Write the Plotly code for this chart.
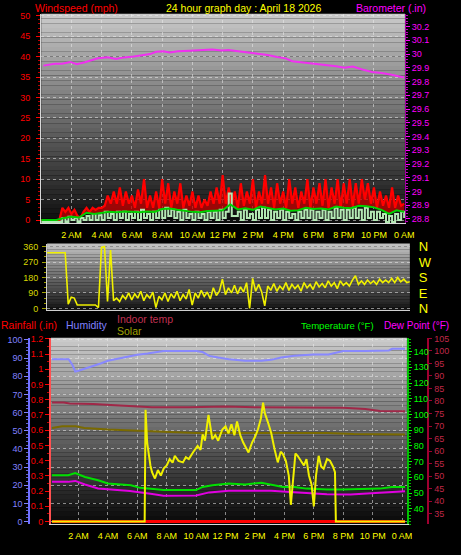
import plotly.graph_objects as go

W, H = 461, 555

# ---------------- data ----------------
hour_labels = ["2 AM", "4 AM", "6 AM", "8 AM", "10 AM", "12 PM", "2 PM", "4 PM",
               "6 PM", "8 PM", "10 PM", "0 AM"]
hour_ticks = [2, 4, 6, 8, 10, 12, 14, 16, 18, 20, 22, 24]

hours_fine = [round(i * 0.2, 1) for i in range(121)]
hours_half = [i * 0.5 for i in range(49)]

wind_gust = [0, 0, 0, 0, 0, 0, 0, 3, 2, 3,
             1.5, 2.5, 1, 0.5, 2, 3, 2, 3, 2.5, 3,
             3, 3.5, 6, 4, 7, 4, 8, 3.5, 7, 4,
             6, 3, 7.5, 4, 10, 3, 6, 3, 7, 3,
             10, 4, 9, 3, 7, 4, 9, 3, 6, 3.5,
             7, 3, 6, 3, 5, 3.5, 7, 4, 8, 4,
             11, 4, 8, 4, 7, 3, 9, 3.5, 7, 4,
             10, 3, 7, 4, 11, 4, 8, 3, 9, 4,
             7, 3, 10, 4, 8, 3, 7, 4, 10, 3,
             8, 4, 9, 3.5, 10, 3, 8, 4, 10, 3,
             9, 4, 10, 3.5, 9, 4, 10, 5, 9, 4,
             8, 3, 7, 3.5, 6, 3, 8, 3, 6, 3.5,
             4]

wind_speed = [-0.5, -0.5, -0.5, -0.5, -0.5, -0.5, -0.5, 0.5, -0.5, 0.8,
              0, 0.5, -0.5, 0.5, 0, 1, 0, 1.5, 0, 1.2,
              0, 2, 0.5, 1.5, 0, 2, 0.5, 2, 0, 1.5,
              0.5, 2, 0, 2.5, 0.5, 1.5, 0, 2, 0.5, 2.5,
              0.5, 3, 1, 2.5, 0.5, 2, 0, 2.5, 0.5, 1.5,
              0, 2, 0.5, 1.5, 0, 2, 0.5, 2, 0, 2.5,
              0.5, 2, 6.5, 1, 1, 2, 0, 2.5, 0.5, 1.5,
              0, 2.5, 0.5, 3, 0.5, 2.5, 0, 2, 0.5, 2.5,
              0, 2, 0.5, 1.5, 0, 2, 0.5, 2.5, 0.5, 2.5,
              0, 2, 0.5, 2.5, 0, 2, 0.5, 3, 0.5, 2.5,
              0, 2.5, 0.5, 3, 0.5, 2.5, 0, 3, 0.5, 2,
              0, 2, 0.5, 1.5, -0.5, 1, -0.5, 1.5, 0, 2,
              0.5]

wind_avg = [0, 0, 0, 0.5, 0.8, 0.6, 1.8, 1.5, 1.7, 2.0,
            1.9, 2.1, 2.0, 1.9, 2.1, 2.0, 2.7, 2.8, 2.5, 2.2,
            2.0, 1.9, 2.2, 2.3, 2.4, 3.8, 2.6, 2.9, 2.5, 3.3,
            2.9, 2.6, 2.8, 2.3, 2.4, 3.0, 2.7, 2.8, 2.6, 3.3,
            3.0, 2.9, 3.5, 3.4, 3.1, 2.5, 1.5, 2.4, 2.0]

baro_hours = [0.15, 0.9, 1.38, 1.92, 2.36, 2.89, 3.75, 4.40, 4.94, 5.48,
              6.13, 6.77, 7.2, 7.6, 8.07, 8.5, 9.04, 9.8, 10.66, 11.3,
              11.95, 12.38, 13.03, 13.68, 14.3, 14.97, 15.6, 16.16, 16.6, 17.34,
              18.0, 18.86, 19.5, 20.05, 20.6, 21.23, 21.88, 22.52, 23.17, 23.99]
baro_inhg = [29.916, 29.929, 29.93, 29.943, 29.926, 29.94, 29.969, 29.976, 29.964, 29.976,
             29.983, 29.993, 30.0, 30.017, 30.02, 30.012, 30.02, 30.024, 30.029, 30.033,
             30.026, 30.03, 30.02, 30.012, 30.0, 29.993, 29.979, 29.969, 29.948, 29.94,
             29.93, 29.921, 29.912, 29.9, 29.91, 29.888, 29.869, 29.862, 29.85, 29.829]
baro_ticks = [28.8, 28.9, 29.0, 29.1, 29.2, 29.3, 29.4, 29.5, 29.6, 29.7, 29.8,
              29.9, 30.0, 30.1, 30.2]

wind_dir = [324, 324, 324, 324, 324, 324, 324, 25, 65, 60,
            20, 20, 20, 20, 20, 18, 20, 5, 355, 360,
            40, 340, 45, 60, 40, 75, 55, 90, 50, 85,
            60, 100, 45, 80, 60, 95, 5, 70, 50, 90,
            40, 85, 60, 100, 45, 80, 55, 110, 20, 90,
            60, 105, 70, 95, 55, 120, 75, 100, 170, 80,
            120, 90, 135, 85, 125, 95, 150, 0, 175, 100,
            140, 95, 15, 130, 105, 145, 100, 130, 110, 150,
            105, 140, 115, 135, 100, 150, 120, 140, 110, 155,
            125, 145, 120, 160, 130, 150, 115, 160, 135, 150,
            130, 165, 190, 140, 160, 140, 165, 145, 160, 140,
            170, 150, 165, 150, 175, 150, 180, 155, 170, 150,
            155]
dir_ticks = [0, 90, 180, 270, 360]
dir_letters = ["N", "E", "S", "W", "N"]

hum_hours = [0.2, 1.33, 1.6, 1.78, 2.0, 2.4, 2.89, 3.5, 4.0, 4.89,
             5.5, 6.0, 6.7, 7.33, 7.78, 9.0, 10.0, 10.44, 10.89, 11.5,
             12.22, 13.33, 14.44, 15.1, 15.78, 16.67, 18.0, 19.0, 20.0, 21.5,
             23.1, 23.33, 24.2]
humidity = [89.4, 89.4, 86.0, 82.5, 83.0, 84.0, 85.5, 87.0, 88.5, 90.0,
            91.2, 91.8, 92.5, 93.3, 93.9, 93.9, 93.9, 93.3, 91.2, 90.3,
            89.4, 88.5, 88.5, 89.0, 90.3, 91.2, 92.0, 92.0, 93.9, 93.9,
            94.2, 95.1, 95.1]

in_hum_hours = [0.2, 0.9, 1.8, 2.4, 4.0, 5.6, 7.8, 10.0, 12.2, 14.4, 16.7, 18.9, 20.7, 24.2]
in_humidity = [51.5, 52.4, 52.4, 51.5, 50.6, 50.0, 49.4, 48.8, 48.8, 48.8, 48.8, 48.8, 48.2, 47.9]

in_temp_hours = [0.2, 1.0, 1.4, 3.0, 4.5, 7.0, 9.5, 12.0, 14.0, 16.0, 18.0, 20.0, 21.5, 22.5, 24.2]
in_temp = [79.4, 79.4, 79.0, 78.8, 78.3, 77.5, 77.5, 77.8, 77.5, 77.5, 77.5, 77.3, 76.8, 76.0, 75.9]

temp_hours = [0.2, 1.3, 1.78, 2.44, 3.33, 4.0, 5.56, 6.2, 7.78, 10.0,
              10.44, 11.11, 12.22, 13.33, 14.44, 15.0, 15.9, 16.67, 17.5, 18.89,
              20.0, 22.5, 23.3, 24.2]
temperature = [61.3, 61.3, 62.7, 60.2, 58.1, 56.1, 55.0, 53.3, 51.9, 51.9,
               53.9, 55.0, 56.1, 55.5, 56.6, 55.5, 53.9, 53.9, 52.8, 52.3,
               52.3, 52.8, 53.9, 53.9]

dew_hours = [0.2, 1.3, 1.78, 2.44, 3.33, 4.5, 5.5, 6.9, 7.78, 10.0,
             10.89, 12.22, 13.5, 14.44, 15.1, 16.67, 18.0, 18.89, 20.5, 22.5,
             24.2]
dew_point = [57.1, 57.1, 57.7, 55.4, 52.9, 52.2, 51.3, 49.5, 48.3, 48.5,
             50.4, 51.5, 51.5, 51.9, 51.5, 50.5, 49.5, 49.2, 49.0, 50.0,
             51.2]

rain_hours = [0.2, 24.2]
rainfall = [0, 0]

solar_readings = [(0.2, 0), (6.5, 0), (6.56, 608), (6.67, 429), (6.89, 305), (7.0, 269),
                  (7.2, 234), (7.4, 280), (7.6, 250), (7.8, 290), (8.0, 305), (8.2, 340),
                  (8.4, 320), (8.55, 358), (8.8, 330), (9.1, 322), (9.3, 350), (9.5, 340),
                  (9.78, 376), (10.1, 412), (10.3, 390), (10.44, 474), (10.6, 440), (10.84, 581),
                  (11.1, 448), (11.3, 470), (11.5, 440), (11.78, 501), (12.0, 519), (12.2, 480),
                  (12.4, 530), (12.6, 470), (12.78, 545), (13.0, 470), (13.2, 430), (13.4, 400),
                  (13.56, 376), (13.8, 430), (14.0, 460), (14.2, 501), (14.4, 560), (14.55, 647),
                  (14.67, 590), (14.9, 536), (15.1, 483), (15.33, 394), (15.55, 322), (15.75, 380),
                  (15.9, 367), (16.1, 330), (16.3, 250), (16.44, 91), (16.6, 250), (16.75, 370),
                  (16.9, 358), (17.1, 330), (17.33, 305), (17.5, 340), (17.67, 251), (17.85, 200),
                  (18.0, 82), (18.15, 250), (18.33, 358), (18.5, 300), (18.67, 287), (18.9, 340),
                  (19.1, 331), (19.3, 300), (19.44, 269), (19.5, 0), (24.2, 0)]
solar_hours = [h for h, _ in solar_readings]
solar = [v for _, v in solar_readings]

# ---------------- helpers ----------------
FONT = "Liberation Sans, Arial, sans-serif"
GRID = "rgba(235,235,235,0.55)"


def fx(p):
    return p / W


def fy(p):
    return 1 - p / H


def fmt(v):
    s = f"{v:.1f}"
    return s[:-2] if s.endswith(".0") else s


def gradient(xr, yr, top, bot, n=44):
    out = []
    for i in range(n):
        f = i / (n - 1)
        c = tuple(round(t + (b - t) * f) for t, b in zip(top, bot))
        out.append(dict(type="rect", xref=xr + " domain", yref=yr + " domain",
                        x0=0, x1=1, y0=1 - (i + 1) / n, y1=1 - i / n,
                        fillcolor="rgb(%d,%d,%d)" % c, line=dict(width=0), layer="below"))
    return out


fig = go.Figure()

# top panel
fig.add_trace(go.Scatter(x=hours_half, y=wind_avg, mode="lines", xaxis="x", yaxis="y",
                         line=dict(color="rgba(0,0,0,0)", width=0)))
fig.add_trace(go.Scatter(x=hours_fine, y=wind_gust, mode="lines", xaxis="x", yaxis="y",
                         fill="tonexty", fillcolor="rgba(200,0,0,0.75)",
                         line=dict(color="#ff0000", width=2.2)))
fig.add_trace(go.Scatter(x=hours_fine, y=wind_speed, mode="lines", xaxis="x", yaxis="y",
                         line=dict(color="#b4e8b4", width=2, shape="hv")))
fig.add_trace(go.Scatter(x=hours_half, y=wind_avg, mode="lines", xaxis="x", yaxis="y",
                         line=dict(color="#00d000", width=2)))
fig.add_trace(go.Scatter(x=baro_hours, y=baro_inhg, mode="lines", xaxis="x", yaxis="y2",
                         line=dict(color="#f030f0", width=2)))

# middle panel
fig.add_trace(go.Scatter(x=hours_fine, y=wind_dir, mode="lines", xaxis="x2", yaxis="y3",
                         line=dict(color="#f0f000", width=1.6)))
fig.add_trace(go.Scatter(x=[], y=[], xaxis="x2", yaxis="y4"))

# bottom panel
fig.add_trace(go.Scatter(x=rain_hours, y=rainfall, mode="lines", xaxis="x3", yaxis="y5",
                         line=dict(color="#ff0000", width=3)))
fig.add_trace(go.Scatter(x=hum_hours, y=humidity, mode="lines", xaxis="x3", yaxis="y6",
                         line=dict(color="#8888ff", width=2)))
fig.add_trace(go.Scatter(x=in_hum_hours, y=in_humidity, mode="lines", xaxis="x3", yaxis="y6",
                         line=dict(color="#7a6a00", width=2)))
fig.add_trace(go.Scatter(x=temp_hours, y=temperature, mode="lines", xaxis="x3", yaxis="y7",
                         line=dict(color="#00e000", width=2)))
fig.add_trace(go.Scatter(x=dew_hours, y=dew_point, mode="lines", xaxis="x3", yaxis="y7",
                         line=dict(color="#e000e0", width=2)))
fig.add_trace(go.Scatter(x=in_temp_hours, y=in_temp, mode="lines", xaxis="x3", yaxis="y8",
                         line=dict(color="#a02848", width=2)))
fig.add_trace(go.Scatter(x=solar_hours, y=solar, mode="lines", xaxis="x3", yaxis="y9",
                         line=dict(color="#f0f000", width=2)))


def tick_font(c, s=9):
    return dict(family=FONT, size=s, color=c)


xcommon = dict(tickvals=hour_ticks, ticktext=hour_labels, tickfont=tick_font("#ffff00"),
               showgrid=True, gridcolor=GRID, griddash="dot", zeroline=False,
               showline=True, linecolor="#d8d8d8", linewidth=1,
               ticks="outside", ticklen=3, tickcolor="#000000")

layout = dict(
    width=W, height=H, autosize=False,
    margin=dict(l=0, r=0, t=0, b=0),
    paper_bgcolor="#000000", plot_bgcolor="rgba(0,0,0,0)",
    showlegend=False,
    xaxis=dict(domain=[fx(42), fx(413)], range=[0, 24.05], anchor="y", **xcommon),
    yaxis=dict(domain=[fy(223), fy(10)], range=[-0.72, 50.48], anchor="x",
               tickvals=list(range(0, 51, 5)), tickfont=tick_font("#ff0000"),
               ticks="outside", ticklen=4, tickcolor="#ff0000", ticklabelstandoff=4,
               minor=dict(dtick=1, ticks="outside", ticklen=2, tickcolor="#c00000"),
               showgrid=True, gridcolor=GRID, griddash="dot", zeroline=False,
               showline=True, linecolor="#d8d8d8"),
    yaxis2=dict(overlaying="y", side="right", anchor="x", range=[28.771, 30.293],
                tickvals=baro_ticks, ticktext=[fmt(v) for v in baro_ticks],
                tickfont=tick_font("#ff00ff"), ticks="outside", ticklen=4, tickcolor="#ff00ff",
                minor=dict(dtick=0.02, tick0=28.8, ticks="outside", ticklen=2, tickcolor="#c000c0"),
                showgrid=False, zeroline=False, showline=True, linecolor="#a000a0"),
    xaxis2=dict(domain=[fx(48), fx(418)], range=[0, 24], anchor="y3", showticklabels=False,
                showgrid=False, zeroline=False, showline=True, linecolor="#d0d0d0", ticks=""),
    yaxis3=dict(domain=[fy(312), fy(244)], range=[-11.4, 377], anchor="x2",
                tickvals=dir_ticks, tickfont=tick_font("#d8d800"),
                ticks="outside", ticklen=4, tickcolor="#a0a000", ticklabelstandoff=2,
                minor=dict(dtick=30, ticks="outside", ticklen=2, tickcolor="#a0a000"),
                showgrid=True, gridcolor=GRID, griddash="dot", zeroline=False,
                showline=True, linecolor="#d0d0d0"),
    yaxis4=dict(overlaying="y3", side="right", anchor="free", position=fx(426),
                range=[-11.4, 377], tickvals=dir_ticks, ticktext=dir_letters,
                tickfont=tick_font("#ffff00", 13), ticks="", showgrid=False,
                zeroline=False, showline=False),
    xaxis3=dict(domain=[fx(52), fx(415)], range=[0.13, 24.33], anchor="y5", **xcommon),
    yaxis5=dict(domain=[fy(530), fy(340)], range=[-0.019, 1.206], anchor="x3",
                tickvals=[i / 10 for i in range(13)], ticktext=[fmt(i / 10) for i in range(13)],
                tickfont=tick_font("#ff0000"), ticks="outside", ticklen=4, tickcolor="#ff0000",
                minor=dict(dtick=0.05, ticks="outside", ticklen=2, tickcolor="#c00000"),
                showgrid=False, zeroline=False, showline=True, linecolor="#ff5050", linewidth=2),
    yaxis6=dict(overlaying="y5", side="left", anchor="free", position=fx(30),
                range=[-1.6, 101.1], tickvals=list(range(0, 101, 10)),
                tickfont=tick_font("#8080ff"), ticks="outside", ticklen=4, tickcolor="#8080ff",
                minor=dict(dtick=2, ticks="outside", ticklen=2, tickcolor="#6060d0"),
                showgrid=True, gridcolor=GRID, griddash="dot", zeroline=False,
                showline=True, linecolor="#7070ff", linewidth=2),
    yaxis7=dict(overlaying="y5", side="right", anchor="x3", range=[30, 148.75],
                tickvals=list(range(40, 141, 10)), tickfont=tick_font("#00ff00"),
                ticks="outside", ticklen=3, tickcolor="#00ff00",
                minor=dict(dtick=2, ticks="outside", ticklen=2, tickcolor="#00c000"),
                showgrid=False, zeroline=False, showline=True, linecolor="#00c000", linewidth=2),
    yaxis8=dict(overlaying="y5", side="right", anchor="free", position=fx(437),
                range=[30.7, 105.2], tickvals=list(range(35, 106, 5)),
                tickfont=tick_font("#c02848"), ticks="outside", ticklen=3, tickcolor="#a00030",
                showgrid=False, zeroline=False, showline=True, linecolor="#a00030", linewidth=2),
    yaxis9=dict(overlaying="y5", range=[-16, 1000], visible=False),
)

shapes = []
shapes += gradient("x", "y", (200, 200, 200), (14, 14, 14))
shapes += gradient("x2", "y3", (192, 192, 192), (22, 22, 22), n=24)
shapes += gradient("x3", "y5", (202, 202, 202), (8, 8, 8))
layout["shapes"] = shapes


def ann(text, xp, yp, color, xanchor="left", size=11):
    return dict(text=text, x=fx(xp), y=fy(yp), xref="paper", yref="paper",
                xanchor=xanchor, yanchor="middle", align=xanchor if xanchor != "center" else "center",
                showarrow=False, borderpad=0,
                font=dict(family=FONT, size=size, color=color))


layout["annotations"] = [
    ann("Windspeed (mph)", 35, 4.5, "#ff0000", size=10.5),
    ann("24 hour graph day : April 18 2026", 248.5, 4.5, "#ffff00", "center", size=10.5),
    ann("Barometer (.in)", 435, 4.5, "#ff00ff", "right", size=10.5),
    ann("Rainfall (.in)", 0, 327, "#ff0000", size=10.5),
    ann("Humidity", 66, 327, "#8080ff", size=10.5),
    ann("Indoor temp", 118, 320.5, "#c03050", size=10.5),
    ann("Solar", 118, 332.5, "#a0a000", size=10.5),
    ann("Temperature (°F)", 306, 327, "#00ff00", size=9.6),
    ann("Dew Point (°F)", 459, 327, "#ff00ff", "right", size=10),
]

fig.update_layout(**layout)
fig.write_html("out.html",
               config={"displayModeBar": False, "responsive": False},
               post_script="document.body.style.margin='0px';document.body.style.overflow='hidden';")
